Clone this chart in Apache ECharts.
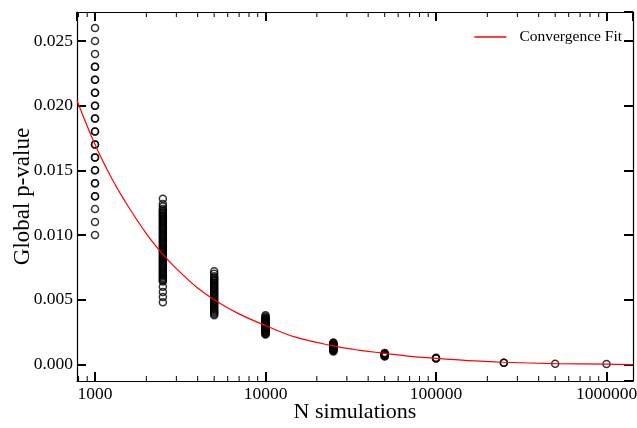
<!DOCTYPE html>
<html>
<head>
<meta charset="utf-8">
<script src="https://cdn.jsdelivr.net/npm/echarts@6/dist/echarts.min.js"></script>
<style>
html,body{margin:0;padding:0;background:#fff;}
#chart{width:637px;height:428px;}
</style>
</head>
<body>
<div id="chart"></div>
<script>
// ---- data ----
const p1000 = [0.010,0.011,0.012,0.013,0.013,0.014,0.014,0.015,0.015,0.016,0.016,0.017,0.017,0.018,0.018,0.019,0.019,0.020,0.020,0.021,0.021,0.022,0.022,0.023,0.023,0.024,0.025,0.026];
const p2500 = [0.0048,0.0052,0.0056,0.0060,0.0064,0.0065,0.0066,0.0067,0.0068,0.0069,0.0070,0.0071,0.0072,0.0073,0.0074,0.0075,0.0076,0.0077,0.0078,0.0079,0.0080,0.0081,0.0082,0.0083,0.0084,0.0085,0.0086,0.0087,0.0088,0.0089,0.0090,0.0091,0.0092,0.0093,0.0094,0.0095,0.0096,0.0097,0.0098,0.0099,0.0100,0.0101,0.0102,0.0103,0.0104,0.0105,0.0106,0.0107,0.0108,0.0109,0.0110,0.0111,0.0112,0.0113,0.0114,0.0115,0.0116,0.0117,0.0118,0.0119,0.0120,0.0122,0.0124,0.0128];
const p5000 = [0.0038,0.0039,0.0040,0.0041,0.0042,0.0043,0.0044,0.0045,0.0046,0.0047,0.0048,0.0049,0.0050,0.0051,0.0052,0.0053,0.0054,0.0055,0.0056,0.0057,0.0058,0.0059,0.0060,0.0061,0.0062,0.0063,0.0064,0.0065,0.0066,0.0067,0.0068,0.0070,0.0072];
const p10000 = [0.0023,0.00235,0.0024,0.00245,0.0025,0.00255,0.0026,0.00265,0.0027,0.00275,0.0028,0.00285,0.0029,0.00295,0.0030,0.00305,0.0031,0.00315,0.0032,0.00325,0.0033,0.00335,0.0034,0.00345,0.0035,0.00355,0.0036,0.0037,0.0038];
const p25000 = [0.00100,0.00104,0.00108,0.00112,0.00116,0.00120,0.00124,0.00128,0.00132,0.00136,0.00140,0.00144,0.00148,0.00152,0.00156,0.00160,0.00164,0.00168];
const p50000 = [0.00060,0.00064,0.00068,0.00072,0.00076,0.00080,0.00084,0.00088];
const p100000 = [0.00044,0.00047,0.00050];
const p250000 = [0.00012,0.00013];
const p500000 = [0.00005];
const p1000000 = [0.00002];

const simGroups = [
  [1000, p1000], [2500, p2500], [5000, p5000], [10000, p10000], [25000, p25000],
  [50000, p50000], [100000, p100000], [250000, p250000], [500000, p500000], [1000000, p1000000]
];

// convergence fit curve
const fitN = [784, 1000, 1250, 1500, 2000, 2500, 3000, 4000, 5000, 7000, 10000, 15000, 25000, 35000, 50000, 70000, 100000, 170000, 250000, 500000, 1000000, 1430000];
const fitP = [0.0204, 0.0170, 0.0144, 0.0126, 0.0101, 0.0085, 0.0074, 0.0059, 0.0050, 0.0039, 0.0030, 0.0021, 0.00142, 0.00110, 0.00085, 0.00062, 0.00046, 0.00026, 0.00016, 0.00006, 0.00001, -0.00002];

// minor tick positions on the log x axis
const minorTicksX = [800, 900, 2000, 3000, 4000, 5000, 6000, 7000, 8000, 9000,
  20000, 30000, 40000, 50000, 60000, 70000, 80000, 90000,
  200000, 300000, 400000, 500000, 600000, 700000, 800000, 900000];

const xMin = 784, xMax = 1430000, yMin = -0.00129, yMax = 0.02724;

// ---- build chart ----
const scatterData = [];
simGroups.forEach(g => g[1].forEach(p => scatterData.push([g[0], p])));
const fitData = fitN.map((n, i) => [n, fitP[i]]);

const FONT = '"Liberation Serif", "Times New Roman", serif';
const axisLineStyle = { color: '#000', width: 1.2 };

const chart = echarts.init(document.getElementById('chart'), null, { renderer: 'canvas' });
chart.setOption({
  backgroundColor: '#fff',
  animation: false,
  grid: { left: 77, right: 4, top: 12, bottom: 47, containLabel: false, outerBoundsMode: 'none' },
  legend: {
    data: [{ name: 'Convergence Fit', icon: 'rect' }],
    right: 10, top: 24,
    itemWidth: 32, itemHeight: 1.3,
    textStyle: { fontFamily: FONT, fontSize: 15.5, color: '#000', padding: [0, 0, 0, 8] }
  },
  xAxis: [{
    type: 'log', logBase: 10, min: xMin, max: xMax, position: 'bottom',
    name: 'N simulations', nameLocation: 'middle', nameGap: 20, nameMoveOverlap: false,
    nameTextStyle: { fontFamily: FONT, fontSize: 22, color: '#000' },
    axisLine: { onZero: false, lineStyle: axisLineStyle },
    axisTick: { inside: true, length: 9, lineStyle: { color: '#000', width: 2 } },
    axisLabel: { fontFamily: FONT, fontSize: 17.5, color: '#000', margin: 4,
      showMinLabel: false, showMaxLabel: false,
      formatter: v => String(Math.round(v)) },
    splitLine: { show: false }
  }, {
    type: 'log', logBase: 10, min: xMin, max: xMax, position: 'top',
    axisLine: { onZero: false, lineStyle: axisLineStyle },
    axisTick: { inside: true, length: 9, lineStyle: { color: '#000', width: 2 } },
    axisLabel: { show: false },
    splitLine: { show: false }
  }],
  yAxis: [{
    type: 'value', min: yMin, max: yMax, splitNumber: 6, position: 'left',
    name: 'Global p-value', nameLocation: 'middle', nameGap: 43, nameMoveOverlap: false,
    nameTextStyle: { fontFamily: FONT, fontSize: 23, color: '#000' },
    axisLine: { show: true, onZero: false, lineStyle: axisLineStyle },
    axisTick: { show: true, inside: true, length: 9, lineStyle: { color: '#000', width: 2 } },
    axisLabel: { fontFamily: FONT, fontSize: 17.5, color: '#000', margin: 4,
      showMinLabel: false, showMaxLabel: false,
      formatter: v => v.toFixed(3) },
    splitLine: { show: false }
  }, {
    type: 'value', min: yMin, max: yMax, splitNumber: 6, position: 'right',
    axisLine: { show: true, onZero: false, lineStyle: axisLineStyle },
    axisTick: { show: true, inside: true, length: 9, lineStyle: { color: '#000', width: 2 } },
    axisLabel: { show: false },
    splitLine: { show: false }
  }],
  series: [{
    name: 'N simulations data',
    type: 'scatter',
    xAxisIndex: 0, yAxisIndex: 0,
    symbol: 'circle', symbolSize: 7,
    itemStyle: { color: 'rgba(0,0,0,0)', borderColor: '#000', borderWidth: 1.5 },
    data: scatterData,
    z: 3
  }, {
    name: 'Convergence Fit',
    type: 'line',
    xAxisIndex: 0, yAxisIndex: 0,
    smooth: 0.4,
    symbol: 'none',
    lineStyle: { color: '#ff0000', width: 1.2 },
    itemStyle: { color: '#ff0000' },
    data: fitData,
    z: 4
  }, {
    name: 'minor ticks',
    type: 'custom',
    xAxisIndex: 0, yAxisIndex: 0,
    silent: true,
    clip: false,
    data: minorTicksX.map(v => [v, 0]),
    renderItem: function (params, api) {
      const x = api.coord([api.value(0), 0])[0];
      const cs = params.coordSys;
      const yb = cs.y + cs.height, yt = cs.y;
      return {
        type: 'group',
        children: [
          { type: 'line', shape: { x1: x, y1: yb, x2: x, y2: yb - 5 }, style: { stroke: '#000', lineWidth: 1 } },
          { type: 'line', shape: { x1: x, y1: yt, x2: x, y2: yt + 5 }, style: { stroke: '#000', lineWidth: 1 } }
        ]
      };
    },
    z: 5
  }]
});
</script>
</body>
</html>
